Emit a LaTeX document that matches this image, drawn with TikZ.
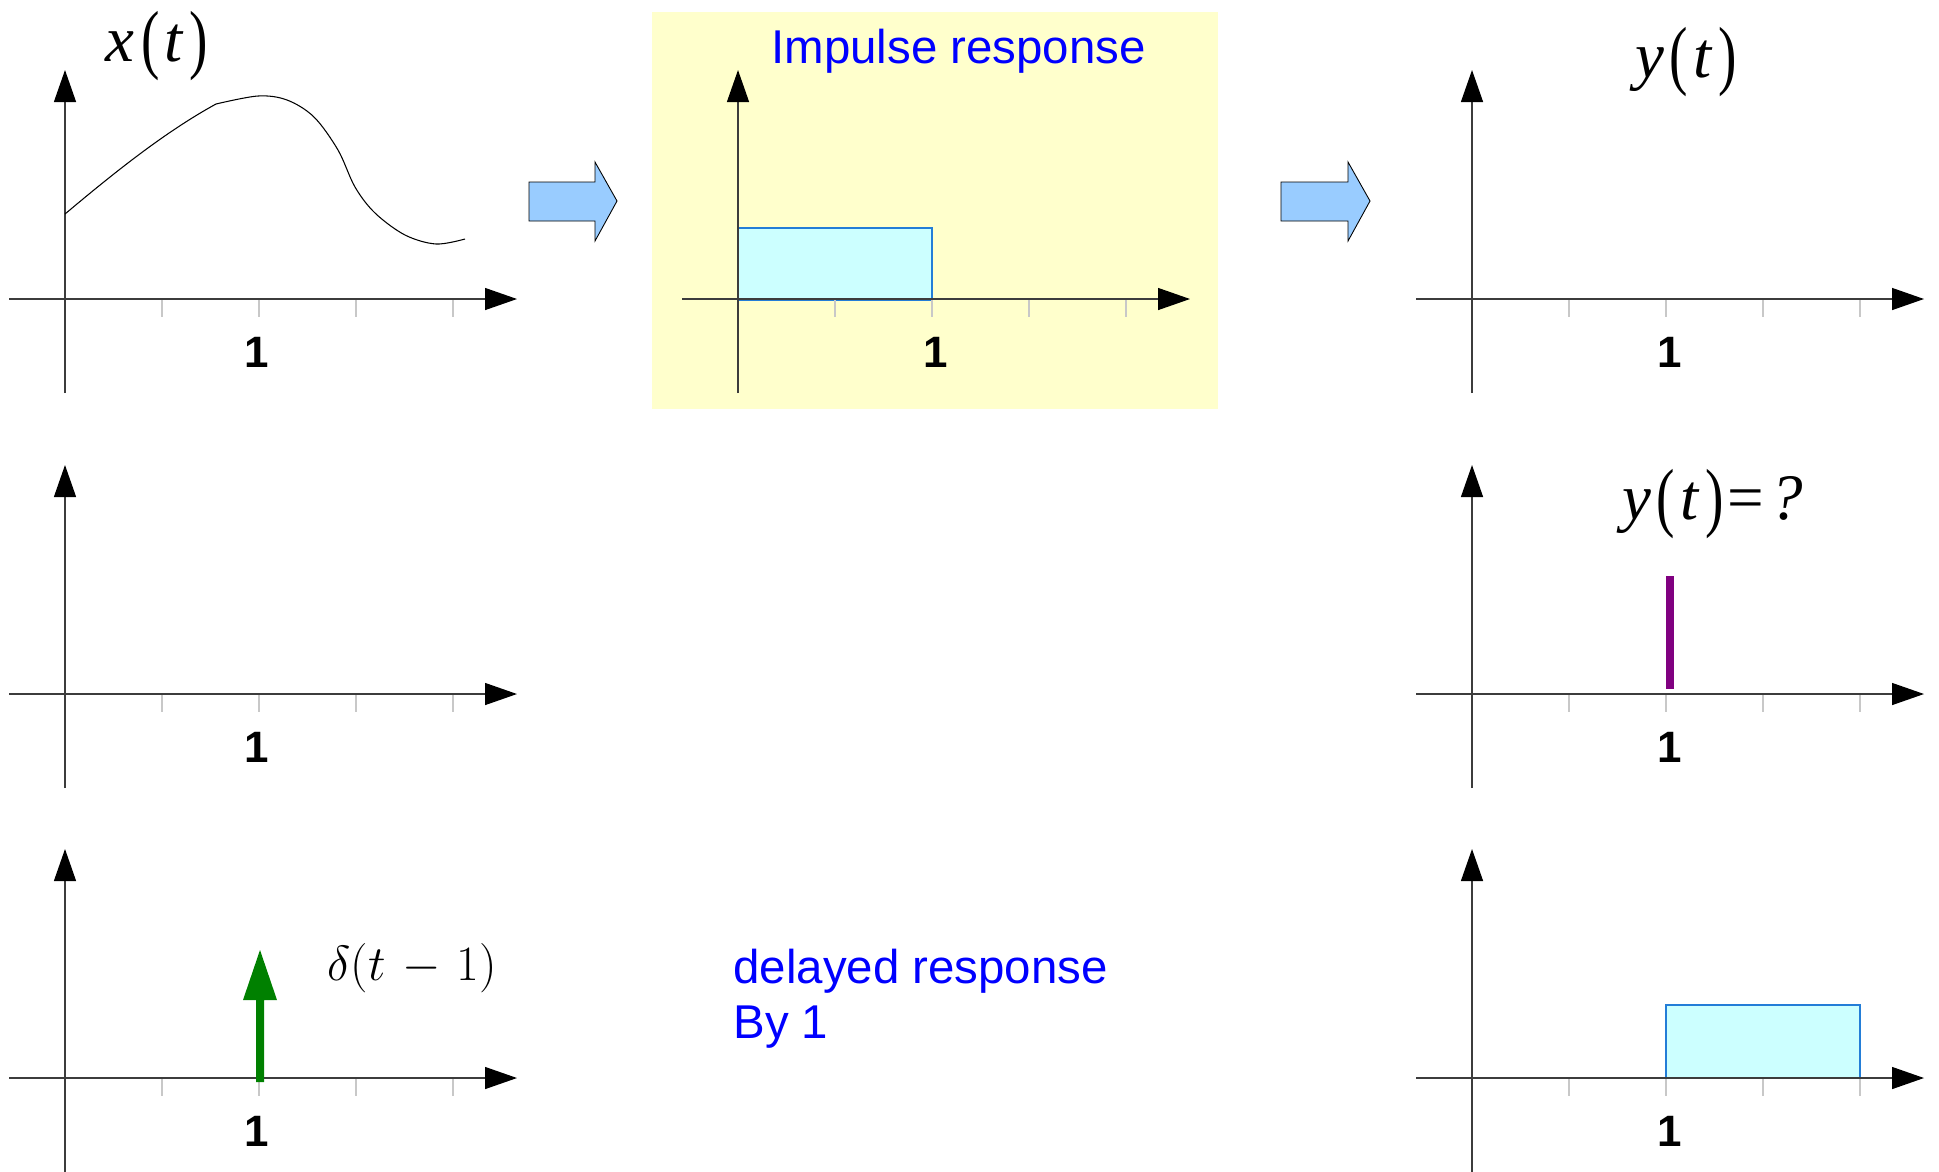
\documentclass[tikz,border=0pt]{standalone}
\usepackage{fontspec}
\newfontfamily\arialf{Liberation Sans}
\newfontfamily\tnrf{Liberation Serif}
\usetikzlibrary{arrows.meta}
\definecolor{boxyellow}{RGB}{255,255,204}
\definecolor{arrowblue}{RGB}{153,204,255}
\definecolor{rectfill}{RGB}{204,255,255}
\definecolor{rectline}{RGB}{35,125,215}
\definecolor{axisgray}{RGB}{60,60,60}
\definecolor{tickgray}{RGB}{200,200,200}
\definecolor{stemgreen}{RGB}{0,128,0}
\definecolor{barpurple}{RGB}{128,0,128}
\definecolor{textblue}{RGB}{0,0,255}
\tikzset{
  axisline/.style={draw=axisgray, line width=0.75pt, -{Triangle[length=0.64cm,width=0.44cm,color=black]}},
  tickline/.style={draw=tickgray, line width=0.8pt},
  blockarrow/.style={fill=arrowblue, draw=black, line width=0.5pt},
  resprect/.style={fill=rectfill, draw=rectline, line width=0.8pt},
  signal/.style={draw=black, line width=0.6pt},
  onelabel/.style={font=\arialf\bfseries\fontsize{25}{29}\selectfont, anchor=base, inner sep=0pt},
  mlabel/.style={font=\tnrf\fontsize{37}{41}\selectfont, anchor=base west, inner sep=0pt},
  bluetext/.style={font=\arialf\fontsize{27}{31}\selectfont, text=textblue, anchor=base west, inner sep=0pt},
}
\newcommand\lpar{\raisebox{-0.06em}{\scalebox{0.85}[1.18]{(}}}
\newcommand\rpar{\raisebox{-0.06em}{\scalebox{0.85}[1.18]{)}}}
\newcommand\axpanel[2]{%
  \begin{scope}[shift={(#1,#2)}]
    \foreach \k in {0,...,4} \draw[tickline] (\k*97,0) -- (\k*97,18);
    \draw[axisline] (-56,0) -- (452,0);
    \draw[axisline] (0,94) -- (0,-229);
  \end{scope}}
\begin{document}
\begin{tikzpicture}[x=0.02cm, y=-0.02cm]
\useasboundingbox (0,0) rectangle (1939,1171);
% yellow box
\fill[boxyellow] (652,12) rectangle (1218,409);
% block arrows
\draw[blockarrow] (529,182) -- (595,182) -- (595,162) -- (617,201) -- (595,241) -- (595,221) -- (529,221) -- cycle;
\draw[blockarrow] (1281,182) -- (1348,182) -- (1348,162) -- (1370,201) -- (1348,241) -- (1348,221) -- (1281,221) -- cycle;
% response rectangles
\draw[resprect] (738,228) rectangle (932,300);
\draw[resprect] (1666,1005) rectangle (1860,1078);
% panels
\axpanel{65}{299}
\axpanel{65}{694}
\axpanel{65}{1078}
\axpanel{738}{299}
\axpanel{1472}{299}
\axpanel{1472}{694}
\axpanel{1472}{1078}
% input signal x(t)
\draw[signal] (65,214) .. controls (115,172) and (165,132) .. (216,104);
\draw[signal] plot[smooth, tension=0.55] coordinates {(216,104) (258,96) (287,100) (314,117) (338,150) (355,187) (375,213) (405,235) (436,244) (465,239)};
% delta arrow
\fill[stemgreen] (256,1082) -- (256,1000) -- (243,1000) -- (260,950) -- (277,1000) -- (264,1000) -- (264,1082) -- cycle;
% purple bar
\fill[barpurple] (1666,576) rectangle (1674,689);
% tick labels
\node[onelabel] (l1) at (257,367) {1};
\node[onelabel] (l2) at (257,762) {1};
\node[onelabel] (l3) at (257,1146) {1};
\node[onelabel] (l4) at (936,367) {1};
\node[onelabel] (l5) at (1670,367) {1};
\node[onelabel] (l6) at (1670,762) {1};
\node[onelabel] (l7) at (1670,1146) {1};
% math labels
\node[mlabel] (xt) at (105,61) {\itshape x\kern4pt\upshape\lpar\kern3pt\itshape t\kern4pt\upshape\rpar};
\node[mlabel] (yt) at (1635,77) {\itshape y\kern3pt\upshape\lpar\kern3pt\itshape t\kern4pt\upshape\rpar};
\node[mlabel] (ytq) at (1622,519) {\itshape y\kern3pt\upshape\lpar\kern3pt\itshape t\kern4pt\upshape\rpar\kern2pt=\kern4pt\itshape ?};
\node[anchor=base west, inner sep=0pt] (dlt) at (327,980) {\scalebox{1.13}{\Huge$\delta(t\mskip2mu-\mskip2mu1)$}};
% blue texts
\node[bluetext] (imp) at (771,63) {Impulse response};
\node[bluetext] (del1) at (733,983) {delayed response};
\node[bluetext] (del2) at (733,1038) {By 1};
\end{tikzpicture}
\end{document}
